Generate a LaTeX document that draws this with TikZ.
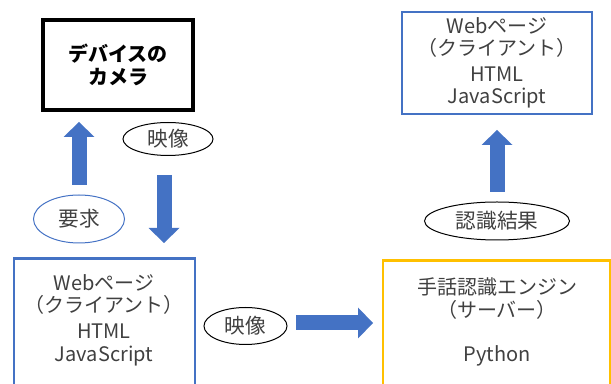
\documentclass[tikz,border=0pt]{standalone}
\usepackage{fontspec}
\setmainfont{Noto Sans CJK JP}
\usepackage{xcolor}
\definecolor{pageblue}{RGB}{68,114,196}
\definecolor{serveryellow}{RGB}{255,192,0}
\definecolor{textgray}{RGB}{64,64,64}
\usepackage{tikz}
\usetikzlibrary{positioning}
\usetikzlibrary{arrows.meta}
\usetikzlibrary{shapes}

\begin{document}
\begin{tikzpicture}[x=0.75pt, y=-0.75pt]
	\clip (0,0) rectangle (611,384);

	\begin{scope}[every node/.style={rectangle, align=center, inner sep=0pt, text=textgray,
	              font=\fontsize{15pt}{17pt}\selectfont}]
	    \node[draw=black, line width=2.75pt, minimum width=112.5pt, minimum height=67.5pt, text=black,
	          font=\fontsize{15pt}{17.5pt}\selectfont\bfseries] (cam) at (118,65) {デバイスの\\カメラ};
	    \node[draw=pageblue, line width=2pt, minimum width=142.5pt, minimum height=76.5pt] (webtop) at (497,63)
	        {Webページ\\（クライアント）\\[2pt]HTML\\JavaScript};
	    \node[draw=pageblue, line width=2pt, minimum width=135.75pt, minimum height=150pt,
	          anchor=north] (webbot) at (104.5,257) {};
	    \node (webtxt) at (104,320) {Webページ\\（クライアント）\\[2pt]HTML\\JavaScript};
	    \node[draw=serveryellow, line width=2pt, minimum width=170.25pt, minimum height=150pt,
	          anchor=north] (server) at (496.5,259) {};
	    \node (servtxt) at (497,322) {手話認識エンジン\\（サーバー）\\[16pt]Python};
	\end{scope}

	\begin{scope}[every node/.style={ellipse, draw=black, line width=0.75pt, inner sep=0pt, text=textgray,
	              font=\fontsize{15.5pt}{17pt}\selectfont}]
	    \node[minimum width=67.5pt, minimum height=24.75pt] (vidup) at (168,139) {映像};
	    \node[draw=pageblue, minimum width=68.25pt, minimum height=36pt] (req) at (79,219) {要求};
	    \node[minimum width=62.25pt, minimum height=27.75pt] (vidsend) at (245.5,326) {映像};
	    \node[minimum width=108.75pt, minimum height=28.5pt] (result) at (497,221) {認識結果};
	\end{scope}

	% block arrows between the parts
	\coordinate (reqtail) at (79,185);
	\coordinate (reqhead) at (79,122);
	\coordinate (vidtail) at (164,175);
	\coordinate (vidhead) at (164,243);
	\coordinate (sendtail) at (296,323);
	\coordinate (sendhead) at (373,323);
	\coordinate (restail) at (497,192);
	\coordinate (reshead) at (497,130);

	\begin{scope}[every edge/.style={draw=pageblue, line width=11.25pt,
	              -{Triangle[width=23.25pt, length=11.25pt, line width=0pt]}}]
	    \path (reqtail) edge (reqhead);
	    \path (vidtail) edge (vidhead);
	    \path (sendtail) edge (sendhead);
	    \path (restail) edge (reshead);
	\end{scope}
\end{tikzpicture}
\end{document}
